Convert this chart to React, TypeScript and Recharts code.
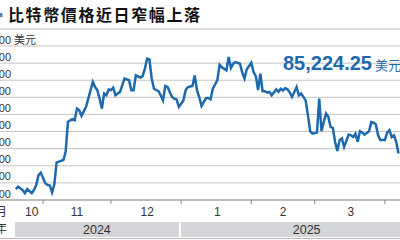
import { LineChart, Line, XAxis, YAxis, CartesianGrid, ReferenceArea } from "recharts";

// day = days since 2024-10-01, price in USD
const days = [
  19, 20, 22, 23, 24, 26, 27, 28, 29, 30, 32, 33, 34, 35, 36, 37, 38, 40, 41, 42,
  43, 44, 45, 46, 47, 48, 49, 50, 51, 53, 54, 55, 56, 57, 58, 59, 60, 61, 62, 63,
  65, 66, 67, 69, 70, 71, 72, 74, 75, 76, 77, 78, 79, 80, 82, 83, 84, 85, 86, 88,
  89, 90, 91, 93, 94, 95, 97, 98, 99, 100, 101, 103, 104, 105, 106, 108, 109, 110, 112, 113,
  114, 115, 116, 118, 119, 120, 121, 123, 124, 125, 126, 127, 128, 129, 130, 131, 132, 134, 135, 136,
  137, 138, 139, 140, 141, 143, 144, 145, 147, 148, 149, 150, 152, 153, 154, 155, 156, 157, 158, 159,
  160, 161, 162, 163, 164, 166, 167, 168, 169, 170, 171, 172, 173, 175, 176, 177, 178, 179, 180, 182,
  183, 184, 185, 186, 187, 188,
];
const prices = [
  68200, 68900, 67900, 67000, 68200, 67000, 67900, 69400, 72300, 73000, 69900, 69400, 69200, 67200, 69600, 76000, 76200, 76700, 79100, 87800,
  88300, 88600, 88300, 91700, 91200, 89600, 90900, 92200, 94600, 99500, 98000, 97100, 94600, 91700, 96100, 95600, 97300, 97100, 97800, 95600,
  96600, 98500, 100500, 100000, 97100, 97100, 101400, 100800, 101200, 103400, 106300, 106100, 100500, 97500, 96800, 95600, 94100, 98300, 98000, 95100,
  94600, 94400, 92200, 94100, 97100, 98000, 98300, 101400, 97100, 95100, 92500, 94800, 94800, 94400, 97500, 100000, 104500, 103800, 102900, 106800,
  103600, 104800, 105300, 104800, 102200, 100500, 103200, 105100, 102400, 101200, 97100, 101900, 96800, 96800, 96400, 96600, 95600, 97300, 96600, 97500,
  97000, 97700, 97300, 96400, 95100, 98000, 95600, 96100, 94100, 89800, 85100, 84400, 84700, 94600, 85100, 87800, 90300, 89300, 86400, 86100,
  82000, 79300, 82500, 83000, 80500, 84100, 83900, 83400, 84400, 82000, 85100, 84700, 84100, 85100, 87800, 87600, 87100, 83900, 82500, 82500,
  84700, 85400, 83400, 83900, 82000, 78600,
];

const yTicks = [65000, 70000, 75000, 80000, 85000, 90000, 95000, 100000, 105000, 110000];
const monthStarts = [31, 61, 92, 123, 151, 182];
const monthLabels = ["10", "11", "12", "1", "2", "3"];
const monthLabelDays = [26, 46, 77, 108, 137, 167];
const years = [
  { label: "2024", from: 18.6, to: 91 },
  { label: "2025", from: 91.9, to: 203 },
];
const latestPrice = "85,224.25";

const data = days.map((d, i) => ({ day: d, price: prices[i] }));

const FONT = '"Liberation Sans", "Noto Sans CJK TC", sans-serif';
const BLUE = "#1d69ad";

const MonthTick = (props: any) => {
  const { x, y, payload } = props;
  const idx = monthLabelDays.indexOf(payload.value);
  if (idx >= 0) {
    return (
      <text x={x} y={y + 16} textAnchor="middle" fontSize={12} fill="#333" fontFamily={FONT}>
        {monthLabels[idx]}
      </text>
    );
  }
  return <line x1={x} x2={x} y1={y} y2={y + 4} stroke="#888" strokeWidth={1} />;
};

const PriceTick = (props: any) => {
  const { y, payload } = props;
  const top = payload.value === yTicks[yTicks.length - 1];
  return (
    <g>
      <text x={11} y={y - 2.5} textAnchor="end" fontSize={11} fill="#333" fontFamily={FONT}>
        {payload.value.toLocaleString("en-US")}
      </text>
      {top && (
        <text x={14} y={y - 2.5} fontSize={11} fill="#333" fontFamily={FONT}>
          美元
        </text>
      )}
    </g>
  );
};

export default function App() {
  return (
    <div style={{ position: "absolute", left: 0, top: 0, width: 400, height: 240, overflow: "hidden", background: "#fff" }}>
      <LineChart width={403} height={240} data={data} margin={{ top: 46, right: 0, bottom: 0, left: 0 }}>
        <CartesianGrid vertical={false} stroke="#c4c4c4" />
        <XAxis
          dataKey="day"
          type="number"
          domain={[12, 190]}
          allowDataOverflow
          ticks={[...monthStarts, ...monthLabelDays].sort((a, b) => a - b)}
          interval={0}
          tick={<MonthTick />}
          tickLine={false}
          tickSize={0}
          tickMargin={0}
          height={40}
          axisLine={{ stroke: "#999" }}
        />
        <YAxis
          type="number"
          domain={[65000, 110000]}
          ticks={yTicks}
          interval={0}
          mirror
          axisLine={false}
          tickLine={false}
          tick={<PriceTick />}
        />
        {years.map((yr) => (
          <ReferenceArea
            key={yr.label}
            x1={yr.from}
            x2={yr.to}
            y1={54200}
            y2={58600}
            ifOverflow="visible"
            fill="#d3d5d8"
            fillOpacity={1}
            stroke="none"
            label={{ value: yr.label, position: "center", fill: "#333", fontSize: 12.5, fontFamily: FONT }}
          />
        ))}
        <Line
          type="linear"
          dataKey="price"
          stroke={BLUE}
          strokeWidth={2.5}
          dot={false}
          isAnimationActive={false}
        />
      </LineChart>
      <svg width={400} height={240} style={{ position: "absolute", left: 0, top: 0, pointerEvents: "none" }}>
        <rect x={0} y={13} width={2.5} height={4} fill="#5b7fa8" />
        <text x={8} y={20.5} fontSize={16} fontWeight="bold" fill="#111" letterSpacing={1.6} fontFamily={FONT}>
          比特幣價格近日窄幅上落
        </text>
        <line x1={0} x2={400} y1={29} y2={29} stroke="#bbb" strokeWidth={1} />
        <text x={283} y={70} fontSize={20} fontWeight="bold" fill={BLUE} fontFamily={FONT}>
          {latestPrice}
        </text>
        <text x={375} y={70} fontSize={13} fill={BLUE} fontFamily={FONT}>
          美元
        </text>
        <text x={-5} y={216} fontSize={12} fill="#333" fontFamily={FONT}>
          月
        </text>
        <text x={-5} y={233} fontSize={12} fill="#333" fontFamily={FONT}>
          年
        </text>
        <line x1={0} x2={400} y1={238.5} y2={238.5} stroke="#bbb" strokeWidth={1} />
      </svg>
    </div>
  );
}
